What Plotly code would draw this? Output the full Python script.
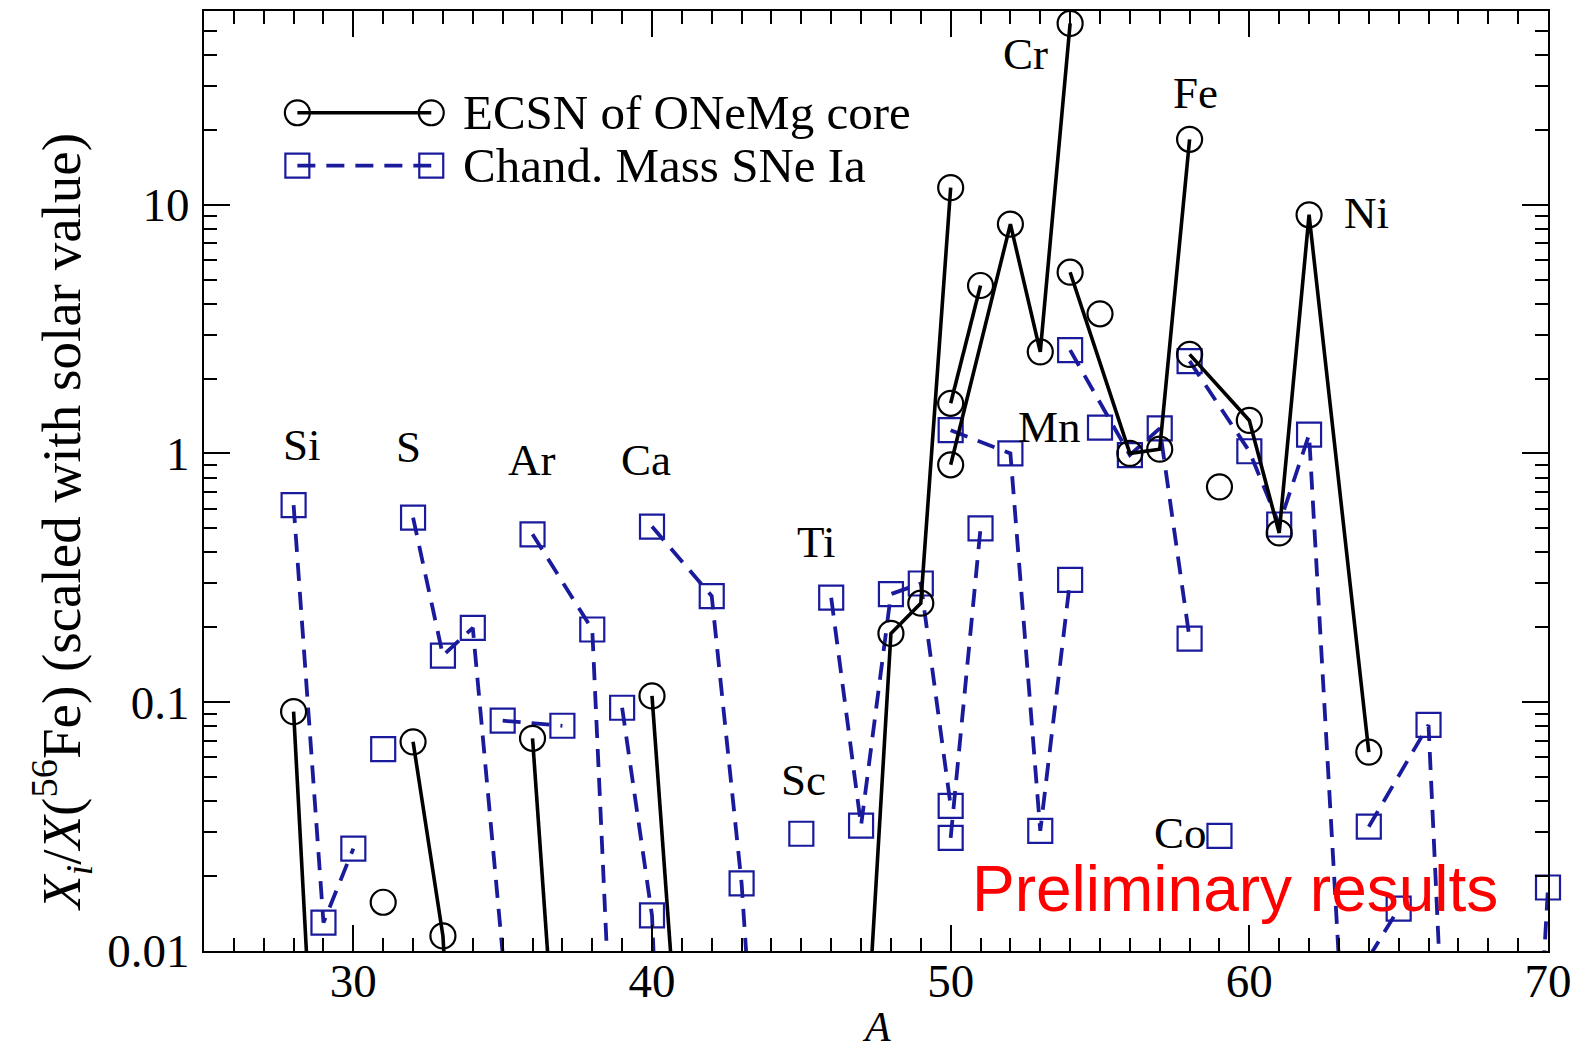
import math
import plotly.graph_objects as go

# ---------------- data ----------------
# ECSN of ONeMg core (black open circles, solid line); values < 0.01 fall below the frame
ecsn_elem = ["Si", "Si", "Si", "P", "S", "S", "S", "Ar", "Ar", "Ca", "Ca",
             "Ti", "Ti", "Ti", "Ti", "Ti", "V", "V", "Cr", "Cr", "Cr", "Cr", "Mn",
             "Fe", "Fe", "Fe", "Fe", "Co", "Ni", "Ni", "Ni", "Ni", "Ni"]
ecsn_A = [28, 29, 30, 31, 32, 33, 34, 36, 38, 40, 42,
          46, 47, 48, 49, 50, 50, 51, 50, 52, 53, 54, 55,
          54, 56, 57, 58, 59, 58, 60, 61, 62, 64]
ecsn_X = [0.0916, 5.2e-4, 1e-4, 0.0157, 0.0693, 0.0115, 1e-4, 0.0716, 2.8e-5, 0.106, 5.2e-5,
          1e-4, 0.0018, 0.189, 0.25, 11.7, 1.59, 4.73, 0.90, 8.35, 2.56, 53.5, 3.64,
          5.35, 1.0, 1.04, 18.3, 0.734, 2.5, 1.357, 0.479, 9.1, 0.063]

# Chandrasekhar-mass SNe Ia (blue open squares, dashed line)
snia_elem = ["Si", "Si", "Si", "P", "S", "S", "S", "S", "Cl", "Cl", "Ar", "Ar", "Ar",
             "K", "K", "K", "Ca", "Ca", "Ca", "Ca", "Sc", "Ti", "Ti", "Ti", "Ti", "Ti",
             "V", "V", "Cr", "Cr", "Cr", "Cr", "Mn", "Fe", "Fe", "Fe", "Fe", "Co",
             "Ni", "Ni", "Ni", "Ni", "Ni", "Cu", "Cu", "Zn", "Zn", "Zn", "Zn", "Zn"]
snia_A = [28, 29, 30, 31, 32, 33, 34, 36, 35, 37, 36, 38, 40,
          39, 40, 41, 40, 42, 43, 44, 45, 46, 47, 48, 49, 50,
          50, 51, 50, 52, 53, 54, 55, 54, 56, 57, 58, 59,
          58, 60, 61, 62, 64, 63, 65, 64, 66, 67, 68, 70]
snia_X = [0.62, 0.013, 0.0258, 0.0648, 0.552, 0.154, 0.199, 4.8e-4, 0.0843, 0.0804, 0.473, 0.196, 1e-6,
          0.095, 0.0139, 2e-5, 0.508, 0.267, 0.0187, 2.9e-4, 0.0296, 0.263, 0.0319, 0.272, 0.30, 0.0383,
          0.0285, 0.50, 1.24, 1.0, 0.0304, 0.31, 1.27, 2.6, 0.985, 1.26, 0.18, 0.029,
          2.35, 1.02, 0.518, 1.19, 7e-5, 0.006, 0.0148, 0.0316, 0.081, 2e-4, 1e-6, 0.018]

series_names = ["ECSN of ONeMg core", "Chand. Mass SNe Ia"]
x_ticks = [30, 40, 50, 60, 70]
y_ticks = [0.01, 0.1, 1, 10]
y_ticktext = ["0.01", "0.1", "1", "10"]
x_range = [25, 70]
y_range = [0.01, 60]

# ---------------- layout constants ----------------
W, H = 1581, 1053
ML, MR, MT, MB = 204, 31, 9, 102
PW, PH = W - ML - MR, H - MT - MB
SERIF = "Liberation Serif, Times New Roman, serif"
BLACK = "#000000"
BLUE = "#1a1a9c"
DASH = "18px,11px"


def px(x):
    return (x - ML) / PW


def py(y):
    return 1 - (y - MT) / PH


def gapped(elem, A, X):
    xs, ys = [], []
    for i in range(len(A)):
        if i > 0 and elem[i] != elem[i - 1]:
            xs.append(None)
            ys.append(None)
        xs.append(A[i])
        ys.append(X[i])
    return xs, ys


def visible(A, X):
    pts = [(a, v) for a, v in zip(A, X) if v >= y_range[0] and x_range[0] <= a <= x_range[1]]
    return [p[0] for p in pts], [p[1] for p in pts]


fig = go.Figure()

# blue series
bx, by = gapped(snia_elem, snia_A, snia_X)
fig.add_trace(go.Scatter(x=bx, y=by, mode="lines", name=series_names[1], showlegend=False,
                         connectgaps=False, line=dict(color=BLUE, width=3.8, dash=DASH)))
vx, vy = visible(snia_A, snia_X)
fig.add_trace(go.Scatter(x=vx, y=vy, mode="markers", showlegend=False, cliponaxis=False,
                         marker=dict(symbol="square-open", size=24, color=BLUE,
                                     line=dict(width=2.2, color=BLUE))))

# black series
kx, ky = gapped(ecsn_elem, ecsn_A, ecsn_X)
fig.add_trace(go.Scatter(x=kx, y=ky, mode="lines", name=series_names[0], showlegend=False,
                         connectgaps=False, line=dict(color=BLACK, width=3.6)))
vx, vy = visible(ecsn_A, ecsn_X)
fig.add_trace(go.Scatter(x=vx, y=vy, mode="markers", showlegend=False, cliponaxis=False,
                         marker=dict(symbol="circle-open", size=25, color=BLACK,
                                     line=dict(width=2.2, color=BLACK))))

# minor ticks on log axis
y_minor = []
for k in range(-2, 2):
    for m in range(2, 10):
        v = m * 10 ** k
        if v < y_range[1]:
            y_minor.append(v)

tickfont = dict(family=SERIF, size=47, color="black")

fig.update_layout(
    width=W, height=H,
    margin=dict(l=ML, r=MR, t=MT, b=MB),
    paper_bgcolor="white", plot_bgcolor="white",
    showlegend=False,
    xaxis=dict(range=x_range, tickmode="array", tickvals=x_ticks,
               ticktext=[str(v) for v in x_ticks],
               ticks="inside", ticklen=26, tickwidth=2, tickcolor="black",
               showline=True, linecolor="black", linewidth=2, mirror="ticks",
               showgrid=False, zeroline=False, tickfont=tickfont, ticklabelstandoff=-12,
               minor=dict(ticks="inside", ticklen=13, tickwidth=2, tickcolor="black",
                          tick0=25, dtick=1, showgrid=False)),
    yaxis=dict(type="log", range=[math.log10(y_range[0]), math.log10(y_range[1])],
               tickmode="array", tickvals=y_ticks, ticktext=y_ticktext,
               ticks="inside", ticklen=26, tickwidth=2, tickcolor="black",
               showline=True, linecolor="black", linewidth=2, mirror="ticks",
               showgrid=False, zeroline=False, tickfont=tickfont, ticklabelstandoff=3,
               minor=dict(ticks="inside", ticklen=13, tickwidth=2, tickcolor="black",
                          tickvals=y_minor, showgrid=False)),
)

annotations = []
# element labels (text, x px, y px)
element_labels = [("Si", 302.5, 443.6), ("S", 408.4, 445.7), ("Ar", 532.4, 458.8),
                  ("Ca", 646.3, 458.8), ("Ti", 816.7, 541.5), ("Sc", 804.6, 779.4),
                  ("Cr", 1026.4, 52.4), ("Fe", 1196.9, 90.7), ("Mn", 1050.7, 425.5),
                  ("Ni", 1368.3, 211.7), ("Co", 1181.8, 832.9)]
for t, x, y in element_labels:
    annotations.append(dict(text=t, x=px(x), y=py(y), xref="paper", yref="paper",
                            xanchor="center", yanchor="middle", showarrow=False,
                            font=dict(family=SERIF, size=45, color="black")))

# axis titles
annotations.append(dict(text="<i>A</i>", x=px(877), y=py(1052), xref="paper", yref="paper",
                        xanchor="center", yanchor="bottom", showarrow=False,
                        font=dict(family=SERIF, size=42, color="black")))
annotations.append(dict(text="<i>X<sub>i</sub></i>/<i>X</i>(<sup>56</sup>Fe) (scaled with solar value)",
                        x=px(62), y=py(521), xref="paper", yref="paper", textangle=-90,
                        xanchor="center", yanchor="middle", showarrow=False,
                        font=dict(family=SERIF, size=55, color="black")))

# watermark text
annotations.append(dict(text="Preliminary results", x=px(1237), y=py(889), xref="paper", yref="paper",
                        xanchor="center", yanchor="middle", showarrow=False,
                        font=dict(family="Liberation Sans, Arial, sans-serif", size=64, color="#ff0000")))

# legend (drawn manually in xmgrace style)
leg_x0, leg_x1 = 297.5, 431.6
leg_rows = [111, 164]
leg_text_x = 461
shapes = []
for i, (name, ycen) in enumerate(zip(series_names, leg_rows)):
    annotations.append(dict(text=name, x=px(leg_text_x), y=py(ycen), xref="paper", yref="paper",
                            xanchor="left", yanchor="middle", showarrow=False,
                            font=dict(family=SERIF, size=49, color="black")))
    if i == 0:
        shapes.append(dict(type="line", xref="paper", yref="paper", x0=px(leg_x0), x1=px(leg_x1),
                           y0=py(ycen), y1=py(ycen), line=dict(color=BLACK, width=3.6)))
        for cx in (leg_x0, leg_x1):
            shapes.append(dict(type="circle", xref="paper", yref="paper",
                               x0=px(cx - 12.5), x1=px(cx + 12.5), y0=py(ycen + 12.5), y1=py(ycen - 12.5),
                               line=dict(color=BLACK, width=2.2)))
    else:
        shapes.append(dict(type="line", xref="paper", yref="paper", x0=px(leg_x0), x1=px(leg_x1),
                           y0=py(ycen), y1=py(ycen), line=dict(color=BLUE, width=3.8, dash=DASH)))
        for cx in (leg_x0, leg_x1):
            shapes.append(dict(type="rect", xref="paper", yref="paper",
                               x0=px(cx - 12), x1=px(cx + 12), y0=py(ycen + 12), y1=py(ycen - 12),
                               line=dict(color=BLUE, width=2.2)))

fig.update_layout(annotations=annotations, shapes=shapes)
fig.write_html("out.html", config={"displayModeBar": False},
               post_script="document.body.style.margin='0px';document.body.style.overflow='hidden';")
